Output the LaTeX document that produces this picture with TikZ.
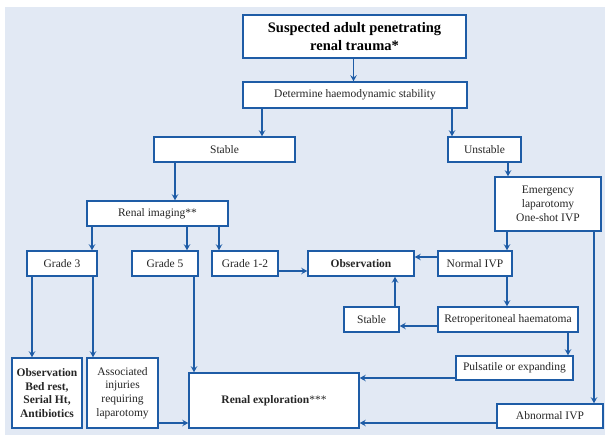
\documentclass[tikz,border=0pt]{standalone}
\usepackage{fontspec}
\setmainfont{Liberation Serif}
\usetikzlibrary{arrows.meta}
\definecolor{bgblue}{HTML}{E2E9F4}
\definecolor{lineblue}{HTML}{1E5CA6}
\definecolor{txt}{HTML}{262626}
\tikzset{
  box/.style={draw=lineblue, line width=1.5pt, fill=white, inner sep=0pt, align=center, text=txt, font=\fontsize{11.5}{13.8}\selectfont},
  arr/.style={draw=lineblue, line width=1.8pt, -{Stealth[length=6pt,width=6.5pt,inset=2.2pt]}},
}
\begin{document}
\begin{tikzpicture}[x=1pt,y=-1pt]
\useasboundingbox (0,0) rectangle (605,439);
\fill[bgblue] (5,7) rectangle (605,435);
% nodes
\node[box, minimum width=223pt, minimum height=43pt, text=black, font=\fontsize{14.5}{17.5}\selectfont\bfseries, line width=1.8pt] (top) at (354.5,36.5) {Suspected adult penetrating\\renal trauma*};
\node[box, minimum width=224pt, minimum height=26pt] (det) at (355,95) {Determine haemodynamic stability};
\node[box, minimum width=141pt, minimum height=25pt] (stab) at (224.5,149.5) {Stable};
\node[box, minimum width=73pt, minimum height=25pt] (unst) at (484.5,149.5) {Unstable};
\node[box, minimum width=141pt, minimum height=25pt] (img) at (157.5,213.5) {Renal imaging**};
\node[box, minimum width=106pt, minimum height=54pt] (emer) at (548,204) {Emergency\\laparotomy\\One-shot IVP};
\node[box, minimum width=70pt, minimum height=25pt] (g3) at (62,263.5) {Grade 3};
\node[box, minimum width=66pt, minimum height=25pt] (g5) at (165,263.5) {Grade 5};
\node[box, minimum width=66pt, minimum height=25pt] (g12) at (245,263.5) {Grade 1-2};
\node[box, minimum width=106pt, minimum height=25pt, font=\fontsize{11.5}{13.8}\selectfont\bfseries] (obs) at (361,263.5) {Observation};
\node[box, minimum width=74pt, minimum height=25pt] (nivp) at (475,263.5) {Normal IVP};
\node[box, minimum width=55pt, minimum height=25pt] (stab2) at (371.5,319.5) {Stable};
\node[box, minimum width=140pt, minimum height=25pt] (retro) at (508,319.5) {Retroperitoneal haematoma};
\node[box, minimum width=117pt, minimum height=24pt] (puls) at (514.5,368) {Pulsatile or expanding};
\node[box, minimum width=106pt, minimum height=24pt] (abn) at (550,416) {Abnormal IVP};
\node[box, minimum width=70pt, minimum height=70pt, font=\fontsize{11.5}{13.8}\selectfont\bfseries] (obs2) at (47,393) {Observation\\Bed rest,\\Serial Ht,\\Antibiotics};
\node[box, minimum width=71pt, minimum height=70pt] (assoc) at (122.5,393) {Associated\\injuries\\requiring\\laparotomy};
\node[box, minimum width=170pt, minimum height=55pt] (rex) at (274,400.5) {\textbf{Renal exploration}***};
% helper x positions
\coordinate (xa) at (353.5,0);
\coordinate (xb) at (262,0);
\coordinate (xc) at (452,0);
\coordinate (xd) at (175,0);
\coordinate (xe) at (92,0);
\coordinate (xf) at (187,0);
\coordinate (xg) at (219,0);
\coordinate (xh) at (508,0);
\coordinate (xi) at (507,0);
\coordinate (xj) at (568,0);
\coordinate (xk) at (594,0);
\coordinate (xl) at (32,0);
\coordinate (xm) at (93,0);
\coordinate (xn) at (194,0);
\coordinate (xo) at (395,0);
% helper y positions
\coordinate (ya) at (0,271);
\coordinate (yb) at (0,257);
\coordinate (yc) at (0,326);
\coordinate (yd) at (0,378);
\coordinate (ye) at (0,423);
% vertical arrows
\draw[arr] (top.south -| xa) -- (det.north -| xa);
\draw[arr] (det.south -| xb) -- (stab.north -| xb);
\draw[arr] (det.south -| xc) -- (unst.north -| xc);
\draw[arr] (stab.south -| xd) -- (img.north -| xd);
\draw[arr] (img.south -| xe) -- (g3.north -| xe);
\draw[arr] (img.south -| xf) -- (g5.north -| xf);
\draw[arr] (img.south -| xg) -- (g12.north -| xg);
\draw[arr] (unst.south -| xh) -- (emer.north -| xh);
\draw[arr] (emer.south -| xi) -- (nivp.north -| xi);
\draw[arr] (nivp.south -| xi) -- (retro.north -| xi);
\draw[arr] (retro.south -| xj) -- (puls.north -| xj);
\draw[arr] (emer.south -| xk) -- (abn.north -| xk);
\draw[arr] (g3.south -| xl) -- (obs2.north -| xl);
\draw[arr] (g3.south -| xm) -- (assoc.north -| xm);
\draw[arr] (g5.south -| xn) -- (rex.north -| xn);
\draw[arr] (stab2.north -| xo) -- (obs.south -| xo);
% horizontal arrows
\draw[arr] (g12.east |- ya) -- (obs.west |- ya);
\draw[arr] (nivp.west |- yb) -- (obs.east |- yb);
\draw[arr] (retro.west |- yc) -- (stab2.east |- yc);
\draw[arr] (puls.west |- yd) -- (rex.east |- yd);
\draw[arr] (abn.west |- ye) -- (rex.east |- ye);
\draw[arr] (assoc.east |- ye) -- (rex.west |- ye);
\end{tikzpicture}
\end{document}
